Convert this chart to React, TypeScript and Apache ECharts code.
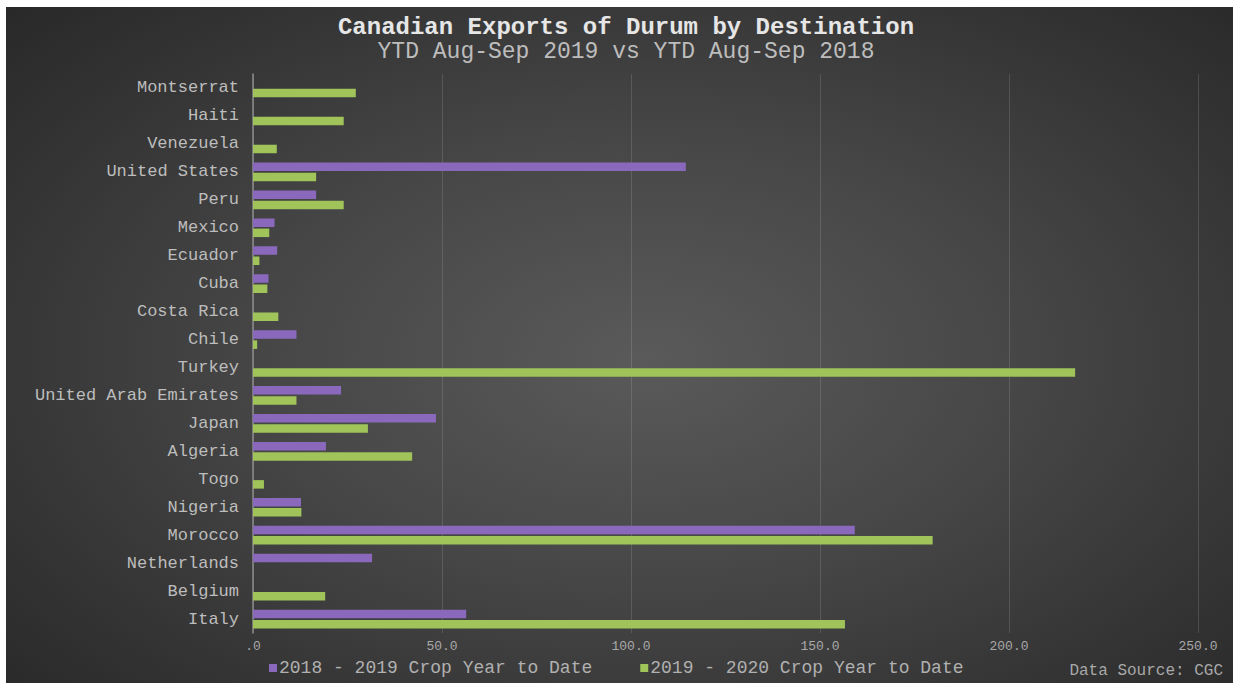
import React, { useEffect, useRef } from "react";
import * as echarts from "echarts";

const categories = [
  "Montserrat", "Haiti", "Venezuela", "United States", "Peru", "Mexico", "Ecuador", "Cuba",
  "Costa Rica", "Chile", "Turkey", "United Arab Emirates", "Japan", "Algeria", "Togo",
  "Nigeria", "Morocco", "Netherlands", "Belgium", "Italy",
];
const crop2018 = [0, 0, 0, 114.5, 16.7, 5.7, 6.4, 4.1, 0, 11.5, 0, 23.3, 48.4, 19.3, 0, 12.7, 159.2, 31.5, 0, 56.4];
const crop2019 = [27.2, 24.0, 6.3, 16.7, 24.0, 4.3, 1.7, 3.8, 6.7, 1.1, 217.5, 11.5, 30.4, 42.1, 2.9, 12.8, 179.8, 0, 19.1, 156.6];
const seriesNames = ["2018 - 2019 Crop Year to Date", "2019 - 2020 Crop Year to Date"];
const xTicks = [0, 50, 100, 150, 200, 250];

const FONT = "'Liberation Mono', 'DejaVu Sans Mono', monospace";

export default function App() {
  const ref = useRef<HTMLDivElement>(null);
  useEffect(() => {
    if (!ref.current) return;
    const chart = echarts.init(ref.current, undefined, { renderer: "svg" });
    chart.setOption({
      animation: false,
      backgroundColor: "transparent",
      title: {
        text: "Canadian Exports of Durum by Destination",
        subtext: "YTD Aug-Sep 2019 vs YTD Aug-Sep 2018",
        left: 615,
        textAlign: "center",
        top: 3,
        itemGap: 1,
        textStyle: { fontFamily: FONT, fontSize: 24, lineHeight: 24, fontWeight: "bold", color: "#e6e6e6" },
        subtextStyle: { fontFamily: FONT, fontSize: 23, lineHeight: 23, color: "#bdbdbd" },
      },
      legend: {
        bottom: 1,
        left: 258,
        itemGap: 48,
        itemWidth: 8,
        itemHeight: 8,
        icon: "rect",
        textStyle: { fontFamily: FONT, fontSize: 18, color: "#b0b0b0", padding: [0, 0, 0, -3] },
        data: seriesNames,
      },
      grid: { left: 247, right: 35, top: 67, bottom: 50, containLabel: false },
      xAxis: {
        type: "value",
        min: xTicks[0],
        max: xTicks[xTicks.length - 1],
        interval: 50,
        axisLine: { show: false },
        axisTick: { show: false },
        splitLine: { show: true, lineStyle: { color: "rgba(255,255,255,0.13)", width: 1 } },
        axisLabel: {
          fontFamily: FONT,
          fontSize: 13,
          color: "#a8a8a8",
          margin: 7,
          formatter: (v: number) => (v === 0 ? ".0" : v.toFixed(1)),
        },
      },
      yAxis: {
        type: "category",
        inverse: true,
        data: categories,
        axisTick: { show: false },
        axisLine: { show: true, lineStyle: { color: "#8c8c8c", width: 1.5 } },
        axisLabel: { fontFamily: FONT, fontSize: 17, color: "#bdbdbd", margin: 14 },
        splitLine: { show: false },
      },
      graphic: [
        {
          type: "text",
          right: 10,
          bottom: 4,
          style: { text: "Data Source: CGC", fontFamily: FONT, fontSize: 16, fill: "#a8a8a8" },
        },
      ],
      series: [
        {
          name: seriesNames[0],
          type: "bar",
          data: crop2018,
          barWidth: 8.5,
          barGap: "20%",
          itemStyle: { color: "#8a68bb" },
        },
        {
          name: seriesNames[1],
          type: "bar",
          data: crop2019,
          barWidth: 8.5,
          barGap: "20%",
          itemStyle: { color: "#a0c35a" },
        },
      ],
    });
    return () => chart.dispose();
  }, []);

  return (
    <div style={{ position: "fixed", left: 0, top: 0, width: 1233, height: 683, background: "#ffffff" }}>
      <div
        ref={ref}
        style={{
          position: "absolute",
          left: 6,
          top: 7,
          width: 1227,
          height: 676,
          background:
            "radial-gradient(ellipse 75% 80% at 52% 52%, #5a5a5a 0%, #474747 40%, #333333 75%, #262626 100%)",
        }}
      />
    </div>
  );
}
